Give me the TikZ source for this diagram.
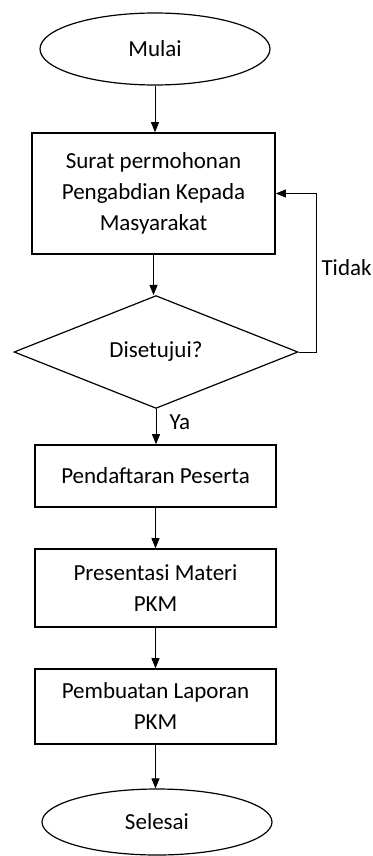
\documentclass[tikz,border=0pt]{standalone}
\usepackage{fontspec}
\setmainfont{Carlito}
\usetikzlibrary{shapes.geometric,arrows.meta}

\tikzset{
	proses/.style={draw, rectangle, line width=1.6pt, minimum width=241pt, align=center},
	terminal/.style={draw, ellipse, line width=1.2pt, minimum width=230pt},
	keputusan/.style={draw, diamond, line width=1.2pt, inner sep=0pt, minimum width=284pt, minimum height=106pt},
	panah/.style={-{Triangle[length=10pt,width=8pt]}, line width=0.8pt}
}

\begin{document}
\begin{tikzpicture}[x=1pt,y=1pt,font=\fontsize{23}{31}\selectfont]
	\useasboundingbox (0,0) rectangle (372,-856);
	
	\node[terminal, minimum height=72pt] (mulai) at (155,-49) {Mulai};
	\node[proses, minimum width=243pt, minimum height=121pt] (surat) at (153.5,-193.5) {Surat permohonan\\Pengabdian Kepada\\Masyarakat};
	\node[keputusan] (setuju) at (156,-352) {Disetujui?};
	\node[proses, minimum height=62pt] (daftar) at (155.5,-476) {Pendaftaran Peserta};
	\node[proses, minimum height=78pt] (materi) at (155.5,-588) {Presentasi Materi\\PKM};
	\node[proses, minimum height=75pt] (laporan) at (155.5,-706.5) {Pembuatan Laporan\\PKM};
	\node[terminal, minimum height=66pt] (selesai) at (157,-822) {Selesai};
	
	\draw[panah] (mulai.south) -- (mulai.south |- surat.north);
	\draw[panah] (surat.south) -- (surat.south |- setuju.north);
	\draw[panah] (setuju.south) -- (setuju.south |- daftar.north);
	\draw[panah] (daftar.south) -- (daftar.south |- materi.north);
	\draw[panah] (materi.south) -- (materi.south |- laporan.north);
	\draw[panah] (laporan.south) -- (laporan.south |- selesai.north);
	
	\coordinate (balik) at (316,-352);
	\draw[panah] (setuju.east) -- (balik) |- (surat.east);
	
	\node[anchor=west] (tidak) at (318,-268) {Tidak};
	\node[anchor=west] (ya) at (166,-422) {Ya};
\end{tikzpicture}
\end{document}
